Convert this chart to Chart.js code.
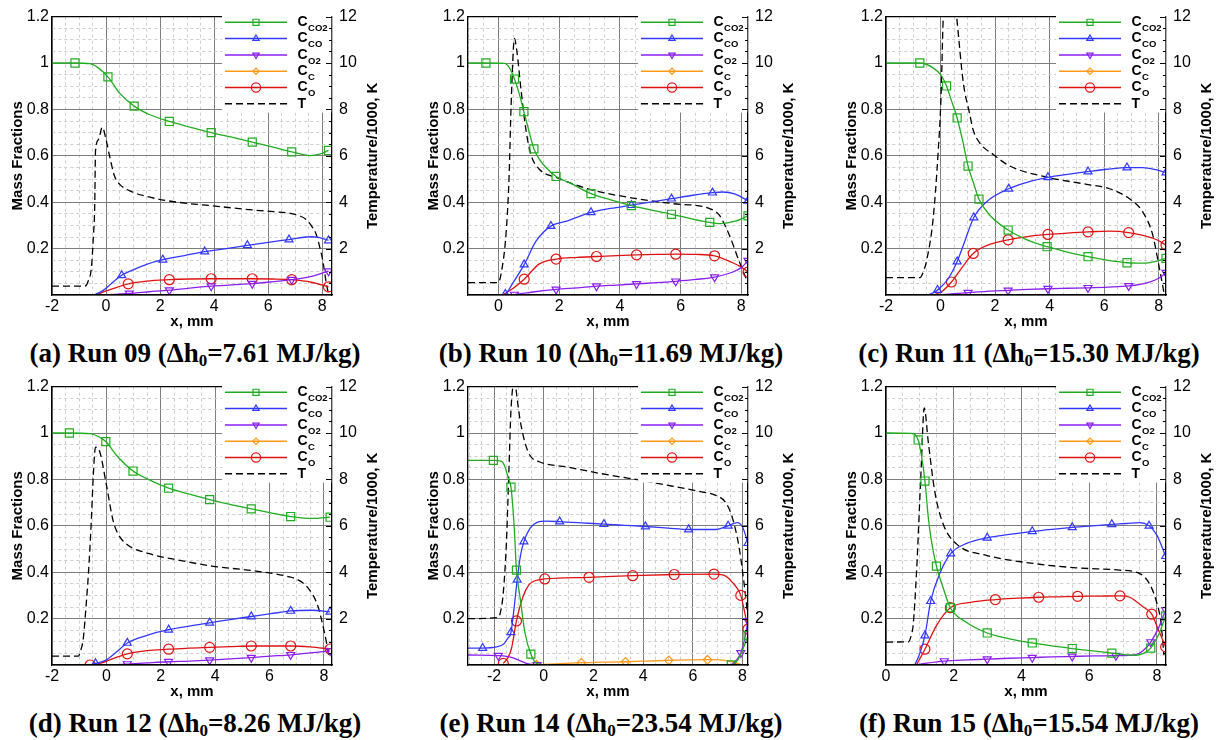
<!DOCTYPE html>
<html>
<head>
<meta charset="utf-8">
<title>Mass fractions along the stagnation line</title>
<script src="https://cdn.jsdelivr.net/npm/chart.js@4.4.1/dist/chart.umd.min.js"></script>
<style>
  html, body { margin: 0; padding: 0; background: #fff; }
  body { position: relative; width: 1217px; height: 740px; overflow: hidden; }
  .panel { position: absolute; width: 383px; height: 370px; }
  .panel canvas { position: absolute; left: 0; top: 0; }
  .cap { position: absolute; left: 0; top: 336px; width: 390px; text-align: center; color: #000;
         font: bold 27px "Liberation Serif", "DejaVu Serif", serif; line-height: 34px; white-space: nowrap; }
  .cap sub { font-size: 17px; vertical-align: -4px; line-height: 0; }
</style>
</head>
<body>
<script>
'use strict';

// species shown in every panel, legend order
var species = ['CO2', 'CO', 'O2', 'C', 'O', 'T'];
var seriesColors = ['#20ad20', '#3239ff', '#8a1ff0', '#ff9a1a', '#e01212', '#000000'];
var seriesMarkers = ['rect', 'triangle', 'triangle', 'rectRot', 'circle', false];
var markerRotation = [0, 0, 180, 0, 0, 0];
var markerRadius = [5.7, 4.6, 4.6, 4.2, 5, 0];
var legendRadius = [4.3, 3.6, 3.6, 3.2, 4.6, 0];

// panel captions and x ranges (mm)
var panelIds = ['a', 'b', 'c', 'd', 'e', 'f'];
var runNames = ['09', '10', '11', '12', '14', '15'];
var enthalpy = ['7.61', '11.69', '15.30', '8.26', '23.54', '15.54'];
var xMin = [-2, -1, -2, -2, -3.05, 0];
var xMax = [8.36, 8.22, 8.27, 8.3, 8.22, 8.27];

// tick steps
var xMajor = 2, xMinor = 0.5;
var yMajor = 0.2, yMinor = 0.05;
var tMajor = 2;

// points are [x (mm), value, marker?]; T is in 1000 K
// (a) Run 09
var a_co2 = [[-2, 1], [-1.15, 1, 1], [-0.6, 0.997], [-0.3, 0.98], [0.07, 0.94, 1], [0.5, 0.87], [1.04, 0.814, 1], [1.6, 0.778], [2.34, 0.748, 1], [3.1, 0.724], [3.89, 0.7, 1], [4.65, 0.68], [5.41, 0.659, 1], [6.15, 0.638], [6.87, 0.617, 1], [7.54, 0.601], [7.9, 0.607], [8.23, 0.623, 1]];
var a_co = [[-0.45, 0], [-0.1, 0.02], [0.2, 0.05], [0.58, 0.085, 1], [1.0, 0.108], [1.5, 0.132], [2.1, 0.152, 1], [2.9, 0.17], [3.65, 0.187, 1], [4.45, 0.2], [5.23, 0.214, 1], [6.0, 0.227], [6.77, 0.239, 1], [7.54, 0.251], [7.9, 0.247], [8.23, 0.235, 1]];
var a_o2 = [[-0.3, 0], [0.3, 0.003], [0.86, 0.007, 1], [1.6, 0.014], [2.34, 0.021, 1], [3.1, 0.03], [3.89, 0.038, 1], [4.65, 0.044], [5.41, 0.049, 1], [6.15, 0.057], [6.87, 0.066, 1], [7.6, 0.08], [8.23, 0.103, 1]];
var a_c = [];
var a_o = [[-0.4, 0], [0.2, 0.025], [0.82, 0.048, 1], [1.5, 0.06], [2.34, 0.066, 1], [3.1, 0.069], [3.89, 0.07, 1], [4.65, 0.07], [5.41, 0.07, 1], [6.15, 0.069], [6.87, 0.066, 1], [7.6, 0.055], [8.23, 0.035, 1]];
var a_t = [[-2, 0.38], [-0.78, 0.38], [-0.66, 0.6], [-0.54, 1.2], [-0.47, 2.5], [-0.42, 3.8], [-0.39, 6.2], [-0.28, 6.7], [-0.14, 7.23], [0.0, 6.7], [0.13, 5.99], [0.31, 5.14], [0.49, 4.79], [0.98, 4.44], [1.5, 4.25], [2.19, 4.08], [3.0, 3.95], [3.89, 3.85], [4.7, 3.75], [5.47, 3.66], [6.2, 3.59], [6.81, 3.52], [7.15, 3.42], [7.42, 3.24], [7.62, 2.95], [7.78, 2.6], [7.92, 2.0], [8.02, 1.48], [8.15, 0.5], [8.22, 0.1]];

// (b) Run 10
var b_co2 = [[-1, 1], [-0.41, 1, 1], [0.2, 0.998], [0.36, 0.98], [0.53, 0.931, 1], [0.69, 0.866], [0.84, 0.79, 1], [1.02, 0.7], [1.17, 0.63, 1], [1.35, 0.585], [1.6, 0.545], [1.9, 0.511, 1], [2.4, 0.48], [3.05, 0.437, 1], [3.7, 0.41], [4.38, 0.385, 1], [5.0, 0.367], [5.7, 0.348, 1], [6.3, 0.33], [6.96, 0.313, 1], [7.32, 0.308], [7.8, 0.318], [8.22, 0.341, 1]];
var b_co = [[0.1, 0], [0.23, 0.004, 1], [0.47, 0.05], [0.85, 0.131, 1], [1.24, 0.232], [1.73, 0.297, 1], [2.22, 0.317], [3.05, 0.356, 1], [3.7, 0.373], [4.38, 0.387, 1], [5.0, 0.4], [5.7, 0.415, 1], [6.4, 0.43], [7.05, 0.441, 1], [7.38, 0.444], [7.8, 0.435], [8.22, 0.406, 1]];
var b_o2 = [[0.2, 0], [0.53, 0.002, 1], [1.2, 0.014], [1.9, 0.024, 1], [2.6, 0.031], [3.23, 0.038, 1], [3.9, 0.043], [4.55, 0.048, 1], [5.2, 0.053], [5.84, 0.059, 1], [6.5, 0.067], [7.12, 0.077, 1], [7.7, 0.098], [8.0, 0.118], [8.22, 0.148, 1]];
var b_c = [];
var b_o = [[0.14, 0], [0.5, 0.03], [0.85, 0.068, 1], [1.35, 0.134], [1.9, 0.155, 1], [2.6, 0.162], [3.23, 0.166, 1], [3.9, 0.17], [4.55, 0.173, 1], [5.2, 0.175], [5.84, 0.176, 1], [6.5, 0.175], [7.12, 0.169, 1], [7.7, 0.14], [8.0, 0.12], [8.22, 0.099, 1]];
var b_t = [[-1, 0.535], [0.0, 0.535], [0.09, 0.92], [0.25, 2.6], [0.35, 5.0], [0.42, 8.2], [0.53, 11.06], [0.6, 10.6], [0.75, 8.8], [0.91, 7.1], [1.07, 6.06], [1.35, 5.42], [1.9, 5.07], [3.05, 4.54], [4.42, 4.18], [5.73, 3.94], [6.94, 3.73], [7.27, 3.45], [7.6, 2.6], [7.92, 1.48], [8.14, 0.77], [8.22, 0.5]];

// (c) Run 11
var c_co2 = [[-2, 1], [-0.76, 1, 1], [-0.27, 0.979], [0.04, 0.944], [0.22, 0.901, 1], [0.4, 0.838], [0.61, 0.763, 1], [0.83, 0.655], [1.01, 0.556, 1], [1.2, 0.486], [1.41, 0.413, 1], [1.8, 0.345], [2.48, 0.28, 1], [3.15, 0.239], [3.91, 0.208, 1], [4.65, 0.185], [5.41, 0.165, 1], [6.1, 0.15], [6.84, 0.139, 1], [7.41, 0.137], [7.9, 0.145], [8.27, 0.158, 1]];
var c_co = [[-0.45, 0], [-0.11, 0.021, 1], [0.28, 0.07], [0.61, 0.144, 1], [0.89, 0.232], [1.22, 0.334, 1], [1.68, 0.401], [2.5, 0.458, 1], [3.2, 0.487], [3.94, 0.507, 1], [4.65, 0.52], [5.41, 0.532, 1], [6.1, 0.542], [6.84, 0.549, 1], [7.41, 0.549], [7.9, 0.54], [8.27, 0.528, 1]];
var c_o2 = [[-0.45, 0], [0.3, 0.004], [1.01, 0.01, 1], [1.7, 0.016], [2.48, 0.02, 1], [3.2, 0.024], [3.94, 0.027, 1], [4.65, 0.029], [5.41, 0.031, 1], [6.15, 0.034], [6.9, 0.039, 1], [7.66, 0.056], [8.0, 0.072], [8.27, 0.096, 1]];
var c_c = [];
var c_o = [[-0.27, 0], [0.05, 0.015], [0.4, 0.056, 1], [0.8, 0.12], [1.2, 0.179, 1], [1.8, 0.218], [2.48, 0.238, 1], [3.2, 0.252], [3.94, 0.261, 1], [4.65, 0.267], [5.41, 0.272, 1], [6.2, 0.275], [6.9, 0.269, 1], [7.5, 0.255], [7.95, 0.237], [8.27, 0.215, 1]];
var c_t = [[-2, 0.75], [-0.76, 0.75], [-0.6, 1.1], [-0.51, 1.48], [-0.27, 3.3], [-0.09, 6.1], [0.02, 8.6], [0.1, 12], [0.3, 15], [0.59, 12], [0.83, 9.2], [1.07, 7.8], [1.2, 7.1], [1.44, 6.55], [1.93, 6.06], [2.54, 5.56], [3.94, 5.07], [5.41, 4.76], [6.2, 4.58], [6.93, 4.15], [7.41, 3.59], [7.78, 2.6], [8.02, 1.2], [8.2, 0.07]];

// (d) Run 12
var d_co2 = [[-2, 1], [-1.36, 1, 1], [-0.6, 0.997], [-0.3, 0.985], [-0.02, 0.963, 1], [0.37, 0.904], [0.98, 0.836, 1], [1.58, 0.798], [2.29, 0.762, 1], [3.05, 0.736], [3.8, 0.713, 1], [4.55, 0.692], [5.33, 0.673, 1], [6.05, 0.656], [6.78, 0.64, 1], [7.66, 0.632], [8.23, 0.637, 1]];
var d_co = [[-0.6, 0], [-0.4, 0.007, 1], [-0.02, 0.021], [0.37, 0.056], [0.77, 0.095, 1], [1.5, 0.128], [2.29, 0.152, 1], [3.05, 0.168], [3.8, 0.182, 1], [4.55, 0.196], [5.33, 0.209, 1], [6.05, 0.221], [6.78, 0.233, 1], [7.54, 0.236], [8.23, 0.229, 1]];
var d_o2 = [[-0.36, 0], [0.2, 0.001], [0.77, 0.004, 1], [1.5, 0.009], [2.29, 0.014, 1], [3.05, 0.017], [3.8, 0.021, 1], [4.55, 0.026], [5.33, 0.032, 1], [6.05, 0.038], [6.78, 0.044, 1], [7.5, 0.052], [8.23, 0.061, 1]];
var d_c = [];
var d_o = [[-0.6, 0, 1], [-0.2, 0.008], [0.3, 0.03], [0.77, 0.048, 1], [1.5, 0.062], [2.29, 0.068, 1], [3.05, 0.073], [3.8, 0.076, 1], [4.55, 0.079], [5.33, 0.082, 1], [6.05, 0.082], [6.78, 0.082, 1], [7.5, 0.078], [8.23, 0.069, 1]];
var d_t = [[-2, 0.38], [-1.03, 0.38], [-0.95, 0.6], [-0.85, 1.13], [-0.75, 2.5], [-0.66, 3.95], [-0.55, 6.3], [-0.48, 8.19], [-0.4, 9.39], [-0.24, 9.18], [0.0, 7.77], [0.25, 6.21], [0.43, 5.65], [0.73, 5.22], [1.58, 4.8], [2.8, 4.49], [3.89, 4.26], [5.35, 4.07], [6.69, 3.81], [7.05, 3.67], [7.42, 3.32], [7.78, 2.54], [8.02, 1.41], [8.21, 0.28]];

// (e) Run 14
var e_co2 = [[-3.05, 0.882], [-2.03, 0.882, 1], [-1.7, 0.878], [-1.56, 0.854], [-1.43, 0.805], [-1.32, 0.767, 1], [-1.19, 0.594], [-1.1, 0.409, 1], [-0.96, 0.296], [-0.76, 0.141], [-0.52, 0.047, 1], [-0.29, 0.007], [0, 0.001], [2, 0], [4, 0], [6, 0], [7.55, 0, 1], [7.8, 0.02], [8.0, 0.065], [8.22, 0.127, 1]];
var e_co = [[-3.05, 0.073], [-2.46, 0.073, 1], [-1.9, 0.078], [-1.6, 0.092], [-1.45, 0.115], [-1.32, 0.141, 1], [-1.2, 0.24], [-1.07, 0.367, 1], [-0.94, 0.47], [-0.8, 0.532, 1], [-0.55, 0.59], [-0.29, 0.614], [0.11, 0.62], [0.64, 0.618, 1], [1.5, 0.613], [2.42, 0.607, 1], [3.25, 0.602], [4.09, 0.597, 1], [5.0, 0.59], [5.83, 0.584, 1], [6.93, 0.584], [7.42, 0.6, 1], [7.79, 0.614], [8.0, 0.595], [8.22, 0.525, 1]];
var e_o2 = [[-3.05, 0.043], [-1.83, 0.04, 1], [-1.5, 0.037], [-1.23, 0.031], [-0.95, 0.018], [-0.7, 0.007], [-0.27, 0, 1], [2, 0], [4, 0], [6, 0], [7.5, 0], [7.7, 0.015], [7.93, 0.052, 1], [8.1, 0.12], [8.22, 0.19, 1]];
var e_c = [[-0.29, 0.002, 1], [0.5, 0.005], [1.51, 0.01, 1], [2.4, 0.012], [3.29, 0.014, 1], [4.2, 0.017], [5.03, 0.02, 1], [5.8, 0.022], [6.59, 0.023, 1], [7.2, 0.021], [7.59, 0.014], [7.93, 0.002]];
var e_o = [[-1.63, 0.007, 1], [-1.45, 0.03], [-1.3, 0.071], [-1.1, 0.19, 1], [-0.83, 0.296], [-0.6, 0.345], [-0.43, 0.36], [0.04, 0.371, 1], [1.82, 0.378, 1], [3.58, 0.385, 1], [5.25, 0.39, 1], [6.85, 0.392, 1], [7.2, 0.388], [7.39, 0.378], [7.6, 0.355], [7.73, 0.339], [7.93, 0.3, 1], [8.1, 0.22], [8.22, 0.155, 1]];
var e_t = [[-3.05, 2.0], [-1.83, 2.05], [-1.72, 2.4], [-1.63, 3.1], [-1.5, 5.37], [-1.4, 8.5], [-1.32, 11.0], [-1.18, 12.2], [-1.05, 11.3], [-0.96, 10.6], [-0.76, 9.6], [-0.56, 9.04], [-0.16, 8.75], [0.91, 8.54], [2.25, 8.26], [3.58, 8.02], [4.92, 7.76], [6.26, 7.48], [6.93, 7.31], [7.33, 6.99], [7.59, 6.35], [7.86, 5.08], [8.06, 3.53], [8.22, 2.05]];

// (f) Run 15
var f_co2 = [[0, 1], [0.75, 0.998], [0.95, 0.97, 1], [1.05, 0.9], [1.15, 0.793, 1], [1.25, 0.635], [1.34, 0.536], [1.49, 0.426, 1], [1.69, 0.332], [1.9, 0.247, 1], [2.37, 0.184], [2.99, 0.138, 1], [3.65, 0.113], [4.32, 0.095, 1], [4.9, 0.082], [5.5, 0.071, 1], [6.1, 0.061], [6.67, 0.051, 1], [7.1, 0.044], [7.38, 0.042], [7.6, 0.05], [7.82, 0.073, 1], [8.05, 0.13], [8.26, 0.212, 1]];
var f_co = [[0.85, 0], [1.0, 0.05], [1.15, 0.127, 1], [1.32, 0.275, 1], [1.59, 0.395], [1.91, 0.48, 1], [2.4, 0.525], [2.99, 0.548, 1], [3.65, 0.563], [4.32, 0.576, 1], [4.9, 0.585], [5.5, 0.593, 1], [6.1, 0.6], [6.67, 0.606, 1], [7.1, 0.61], [7.48, 0.614], [7.77, 0.6, 1], [8.0, 0.56], [8.26, 0.469, 1]];
var f_o2 = [[0.85, 0], [1.2, 0.008], [1.72, 0.017, 1], [2.4, 0.022], [2.99, 0.025, 1], [3.65, 0.029], [4.32, 0.032, 1], [4.9, 0.035], [5.5, 0.037, 1], [6.15, 0.039], [6.79, 0.04, 1], [7.38, 0.045], [7.6, 0.062], [7.82, 0.099, 1], [8.05, 0.16], [8.26, 0.237, 1]];
var f_c = [];
var f_o = [[0.9, 0], [1.15, 0.068, 1], [1.49, 0.17], [1.9, 0.247, 1], [2.5, 0.27], [3.23, 0.282, 1], [3.9, 0.288], [4.51, 0.292, 1], [5.1, 0.294], [5.66, 0.296, 1], [6.3, 0.297], [6.91, 0.298, 1], [7.2, 0.292], [7.38, 0.275], [7.6, 0.25], [7.85, 0.219, 1], [8.05, 0.15], [8.26, 0.078, 1]];
var f_t = [[0, 0.99], [0.66, 1.0], [0.75, 1.3], [0.8, 1.69], [0.9, 3.95], [1.03, 8.19], [1.13, 11.08], [1.25, 9.6], [1.44, 7.48], [1.69, 6.07], [2.08, 5.22], [2.96, 4.73], [4.34, 4.38], [5.61, 4.19], [6.89, 4.09], [7.48, 3.95], [7.77, 3.53], [7.97, 2.82], [8.12, 1.84], [8.21, 0.42]];

var panelSeries = [
	[a_co2, a_co, a_o2, a_c, a_o, a_t],
	[b_co2, b_co, b_o2, b_c, b_o, b_t],
	[c_co2, c_co, c_o2, c_c, c_o, c_t],
	[d_co2, d_co, d_o2, d_c, d_o, d_t],
	[e_co2, e_co, e_o2, e_c, e_o, e_t],
	[f_co2, f_co, f_o2, f_c, f_o, f_t]
];

var colLeft = [0, 416, 834];
var rowTop = [0, 370];
var canvasW = 383, canvasH = 335;

var sansFont = '"Liberation Sans", Arial, sans-serif';
var tickFont = { family: sansFont, size: 16 };
var titleFont = { family: sansFont, size: 15, weight: 'bold' };

function isMajor(v, step) {
	var q = v / step;
	return Math.abs(q - Math.round(q)) < 1e-6;
}

function gridColor(step) {
	return function (c) {
		if (!c.tick) { return '#000'; }
		return isMajor(c.tick.value, step) ? '#7d7d7d' : '#cdcdcd';
	};
}

function gridDash(step) {
	return function (c) {
		if (!c.tick) { return []; }
		return isMajor(c.tick.value, step) ? [] : [3, 3];
	};
}

// frame top, boxed legend inside the plot, inward ticks and the right axis title
var decorPlugin = {
	id: 'decor',
	afterDraw: function (chart) {
		var ctx = chart.ctx, a = chart.chartArea, t = chart.scales.y2;
		ctx.save();
		ctx.strokeStyle = '#000';
		ctx.lineWidth = 1.3;
		ctx.beginPath();
		ctx.moveTo(a.left, a.top);
		ctx.lineTo(a.right, a.top);
		ctx.stroke();

		ctx.fillStyle = '#fff';
		ctx.fillRect(a.right - 110, a.top - 2, 109.3, 98);

		species.forEach(function (name, k) {
			var y = a.top + 5.7 + k * 16.3;
			ctx.strokeStyle = seriesColors[k];
			ctx.lineWidth = 1.5;
			ctx.setLineDash(k === 5 ? [7, 4] : []);
			ctx.beginPath();
			ctx.moveTo(a.right - 107, y);
			ctx.lineTo(a.right - 45, y);
			ctx.stroke();
			ctx.setLineDash([]);
			if (seriesMarkers[k] && Chart.helpers && Chart.helpers.drawPoint) {
				ctx.fillStyle = 'rgba(0,0,0,0)';
				ctx.lineWidth = 1.2;
				Chart.helpers.drawPoint(ctx, {
					pointStyle: seriesMarkers[k],
					rotation: markerRotation[k],
					radius: legendRadius[k],
					borderWidth: 1.2
				}, a.right - 76, y);
			}
			var main = k === 5 ? 'T' : 'C';
			var sub = k === 5 ? '' : name;
			ctx.fillStyle = '#000';
			ctx.textAlign = 'left';
			ctx.textBaseline = 'middle';
			ctx.font = 'bold 14px ' + sansFont;
			ctx.fillText(main, a.right - 34.5, y);
			var w = ctx.measureText(main).width;
			ctx.font = 'bold 9.5px ' + sansFont;
			ctx.fillText(sub, a.right - 34.5 + w + 0.5, y + 6);
		});

		ctx.strokeStyle = '#000';
		ctx.lineWidth = 1;
		for (var v = 0.5; v < 12.01; v += 0.5) {
			var py = Math.round(t.getPixelForValue(v)) + 0.5;
			var len = isMajor(v, tMajor) ? 6 : 3;
			ctx.beginPath();
			ctx.moveTo(a.right - len, py);
			ctx.lineTo(a.right, py);
			ctx.stroke();
		}

		ctx.translate(a.right + 41, (a.top + a.bottom) / 2);
		ctx.rotate(-Math.PI / 2);
		ctx.font = 'bold 15px ' + sansFont;
		ctx.textAlign = 'center';
		ctx.textBaseline = 'middle';
		ctx.fillText('Temperature/1000, K', 0, 0);
		ctx.restore();
	}
};

function makeDataset(k, pts) {
	var isT = k === 5;
	return {
		label: species[k],
		data: pts.map(function (p) { return { x: p[0], y: p[1], m: p[2] || 0 }; }),
		yAxisID: isT ? 'y2' : 'y',
		borderColor: seriesColors[k],
		backgroundColor: 'rgba(0,0,0,0)',
		borderWidth: 1.3,
		borderDash: isT ? [7, 4] : [],
		cubicInterpolationMode: 'monotone',
		pointStyle: seriesMarkers[k],
		rotation: markerRotation[k],
		pointRadius: function (c) { return c.raw && c.raw.m ? markerRadius[k] : 0; },
		pointBorderColor: seriesColors[k],
		pointBackgroundColor: 'rgba(0,0,0,0)',
		pointBorderWidth: 1.2
	};
}

function makePanel(i) {
	var div = document.createElement('div');
	div.className = 'panel';
	div.style.left = colLeft[i % 3] + 'px';
	div.style.top = rowTop[Math.floor(i / 3)] + 'px';
	var canvas = document.createElement('canvas');
	canvas.width = canvasW;
	canvas.height = canvasH;
	div.appendChild(canvas);
	var cap = document.createElement('div');
	cap.className = 'cap';
	cap.innerHTML = '(' + panelIds[i] + ') Run ' + runNames[i] + ' (\u0394h<sub>0</sub>=' + enthalpy[i] + ' MJ/kg)';
	div.appendChild(cap);
	document.body.appendChild(div);

	new Chart(canvas.getContext('2d'), {
		type: 'line',
		data: {
			datasets: panelSeries[i].map(function (pts, k) { return makeDataset(k, pts); })
		},
		options: {
			responsive: false,
			animation: false,
			events: [],
			layout: { padding: { top: 11, left: 0, right: 0, bottom: 0 } },
			plugins: { legend: { display: false }, tooltip: { enabled: false } },
			scales: {
				x: {
					type: 'linear',
					min: xMin[i],
					max: xMax[i],
					ticks: {
						stepSize: xMinor, includeBounds: false, autoSkip: false, maxRotation: 0, padding: 2,
						color: '#000', font: tickFont,
						callback: function (v) { return isMajor(v, xMajor) ? String(Math.round(v)) : ''; }
					},
					grid: { color: gridColor(xMajor), lineWidth: 1, drawTicks: false },
					border: { color: '#000', width: 1.3, z: 1, dash: gridDash(xMajor) },
					title: { display: true, text: 'x, mm', color: '#000', font: titleFont, padding: { top: 0, bottom: 4 } },
					afterFit: function (s) { s.height = 40; }
				},
				y: {
					type: 'linear',
					position: 'left',
					min: 0,
					max: 1.2,
					ticks: {
						stepSize: yMinor, includeBounds: false, autoSkip: false, padding: 3, color: '#000', font: tickFont,
						callback: function (v) { return isMajor(v, yMajor) && v > 0.01 ? String(Math.round(v * 10) / 10) : ''; }
					},
					grid: { color: gridColor(yMajor), lineWidth: 1, drawTicks: false },
					border: { color: '#000', width: 1.3, z: 1, dash: gridDash(yMajor) },
					title: { display: true, text: 'Mass Fractions', color: '#000', font: titleFont, padding: { top: 9, bottom: 0 } },
					afterFit: function (s) { s.width = 52; }
				},
				y2: {
					type: 'linear',
					position: 'right',
					min: 0,
					max: 12,
					ticks: {
						stepSize: tMajor, padding: 7, color: '#000', font: tickFont,
						callback: function (v) { return v === 0 ? '' : String(v); }
					},
					grid: { display: false, drawTicks: false },
					border: { color: '#000', width: 1.3, z: 1 },
					afterFit: function (s) { s.width = 51; }
				}
			}
		},
		plugins: [decorPlugin]
	});
}

for (var i = 0; i < panelIds.length; i++) {
	makePanel(i);
}
</script>
</body>
</html>
